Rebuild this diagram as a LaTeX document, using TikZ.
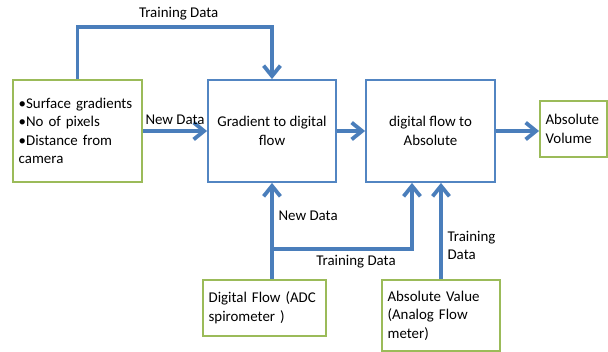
\documentclass[tikz,border=0pt]{standalone}
\usepackage{fontspec}
\setmainfont{Carlito}
\usepackage{xcolor}
\usetikzlibrary{arrows.meta,positioning,calc}

\definecolor{flowblue}{HTML}{4A7EBB}
\definecolor{boxblue}{HTML}{5285C2}
\definecolor{srcgreen}{HTML}{9BBB59}

\begin{document}
\begin{tikzpicture}[
  font=\fontsize{10.6}{13.2}\selectfont,
  box/.style={draw=boxblue, line width=1.3pt, minimum width=3.2cm, minimum height=2.55cm, align=center},
  src/.style={draw=srcgreen, line width=1.3pt, align=left, inner xsep=0.14cm},
  arr/.style={-{Straight Barb[length=2.6mm, width=4.2mm]}, line width=2.7pt, draw=flowblue}
]
  \useasboundingbox (0,0) rectangle (15.2,8.8);
  % inputs and processing chain
  \node[src, text width=2.945cm, minimum height=2.55cm] (in) at (1.94,5.525)
    {•Surface gradients\\•No of pixels\\•Distance from\\camera};
  \node[box] (grad) at (6.8,5.525) {Gradient to digital\\flow};
  \node[box, minimum width=3.225cm] (dig) at (10.7625,5.525) {digital flow to\\Absolute};
  \node[src, text width=1.395cm, minimum height=1.4cm] (vol) at (14.3375,5.575) {Absolute\\Volume};
  % reference sources below
  \node[src, text width=2.795cm, minimum height=1.4cm] (adc) at (6.6125,1.1) {Digital Flow (ADC\\spirometer )};
  \node[src, text width=2.67cm, minimum height=1.775cm] (ana) at (11.025,0.9125) {Absolute Value\\(Analog Flow\\meter)};
  \coordinate (branch) at (6.8,2.575);

  \draw[arr] (in.north) |- node[above, pos=0.76]{Training Data} ($(grad.north)+(0,1.3)$) -- (grad.north);
  \draw[arr] (in) -- node[above]{New Data} (grad);
  \draw[arr] (grad) -- (dig);
  \draw[arr] (dig.east) -- (dig.east -| vol.west);
  \draw[arr] (adc.north -| grad.south) -- node[right, pos=0.66]{New Data} (grad.south);
  \draw[arr] (branch) -| node[below, pos=0.3]{Training Data} ([xshift=-0.4625cm]dig.south);
  \draw[arr] (ana.north) -- node[right, align=left, pos=0.35]{Training\\Data} (ana.north |- dig.south);
\end{tikzpicture}
\end{document}
